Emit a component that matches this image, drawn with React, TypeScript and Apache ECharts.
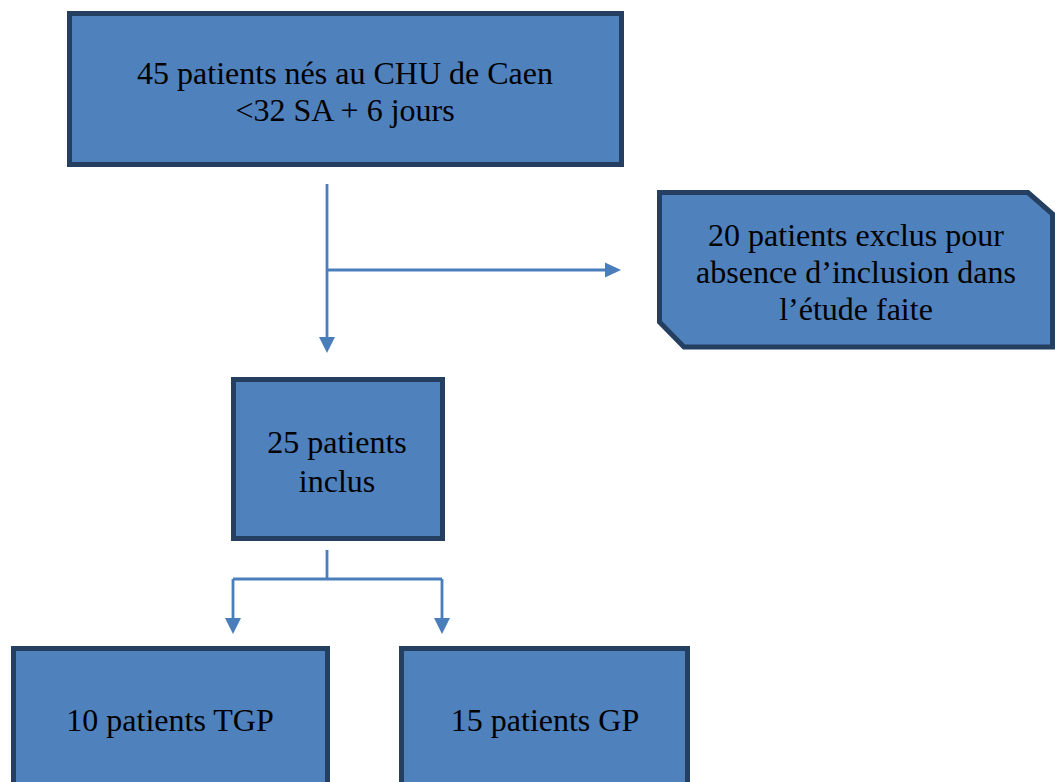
import React, { useEffect, useRef } from "react";
import * as echarts from "echarts";

const topLines = ["45 patients nés au CHU de Caen", "<32 SA + 6 jours"];
const excludedLines = ["20 patients exclus pour", "absence d\u2019inclusion dans", "l\u2019étude faite"];
const includedLines = ["25 patients", "inclus"];
const groupLabels = ["10 patients TGP", "15 patients GP"];

const FILL = "#4F81BD";
const BORDER = "#243F60";
const LINE = "#4A7EBB";
const FS = 32;

function textBlock(lines: string[], cx: number, cy: number, lh: number) {
  const n = lines.length;
  return lines.map((t, i) => ({
    type: "text",
    x: cx,
    y: cy + (i - (n - 1) / 2) * lh,
    style: {
      text: t,
      fill: "#000",
      fontFamily: "Liberation Serif",
      fontSize: FS,
      align: "center",
      verticalAlign: "middle",
    },
    z: 10,
  }));
}

function rectBox(x0: number, y0: number, x1: number, y1: number) {
  return {
    type: "rect",
    shape: { x: x0 + 2.5, y: y0 + 2.5, width: x1 - x0 - 5, height: y1 - y0 - 5 },
    style: { fill: FILL, stroke: BORDER, lineWidth: 5 },
  };
}

function seg(x1: number, y1: number, x2: number, y2: number) {
  return { type: "line", shape: { x1, y1, x2, y2 }, style: { stroke: LINE, lineWidth: 2.8 } };
}

function arrowDown(x: number, tip: number) {
  return { type: "polygon", shape: { points: [[x - 8, tip - 16], [x + 8, tip - 16], [x, tip]] }, style: { fill: LINE } };
}
function arrowRight(y: number, tip: number) {
  return { type: "polygon", shape: { points: [[tip - 16, y - 7.5], [tip - 16, y + 7.5], [tip, y]] }, style: { fill: LINE } };
}

export default function App() {
  const ref = useRef<HTMLDivElement>(null);
  useEffect(() => {
    if (!ref.current) return;
    const chart = echarts.init(ref.current, null, { renderer: "svg" });
    const elements: any[] = [
      { type: "rect", shape: { x: 0, y: 0, width: 1055, height: 782 }, style: { fill: "#fff" } },
      rectBox(67, 11, 624, 167),
      ...textBlock(topLines, 345, 91, 37),
      seg(327, 184, 327, 340),
      arrowDown(327, 353),
      seg(327, 270, 608, 270),
      arrowRight(270, 621),
      {
        type: "polygon",
        shape: { points: [[659.5, 192.5], [1028, 192.5], [1052.5, 214], [1052.5, 347], [684, 347], [659.5, 322]] },
        style: { fill: FILL, stroke: BORDER, lineWidth: 5, lineJoin: "miter" },
      },
      ...textBlock(excludedLines, 856, 272, 37),
      rectBox(231, 377, 445, 541),
      ...textBlock(includedLines, 337, 461, 39),
      seg(327, 550, 327, 579),
      seg(233, 579, 442, 579),
      seg(233, 579, 233, 620),
      seg(442, 579, 442, 620),
      arrowDown(233, 634),
      arrowDown(442, 634),
      rectBox(11, 646, 330, 800),
      rectBox(399, 646, 690, 800),
      ...textBlock([groupLabels[0]], 170, 720, 37),
      ...textBlock([groupLabels[1]], 545, 720, 37),
    ];
    chart.setOption({ animation: false, graphic: { elements } });
    return () => chart.dispose();
  }, []);
  return <div ref={ref} style={{ position: "absolute", left: 0, top: 0, width: 1055, height: 782 }} />;
}
